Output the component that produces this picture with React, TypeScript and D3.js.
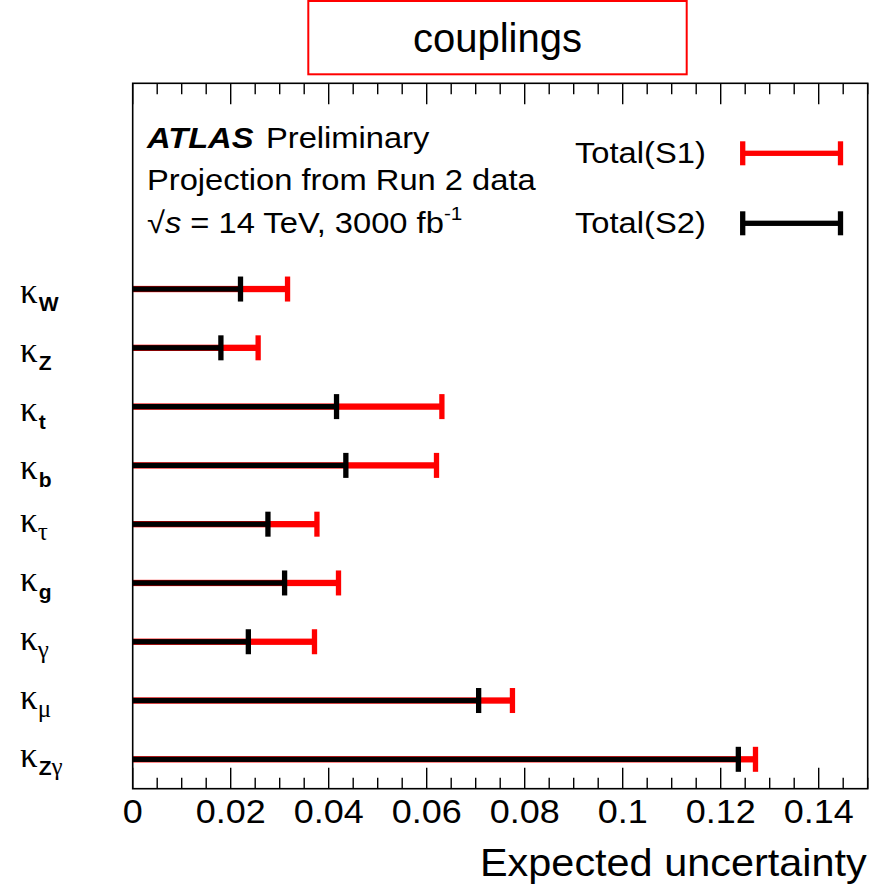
import React from "react";
import * as d3 from "d3";

// ---- data ----
const categories: string[] = ["W", "Z", "t", "b", "τ", "g", "γ", "μ", "Zγ"];
const totalS1: number[] = [0.0316, 0.0256, 0.0631, 0.062, 0.0376, 0.042, 0.0371, 0.0775, 0.1271];
const totalS2: number[] = [0.022, 0.018, 0.0416, 0.0435, 0.0276, 0.031, 0.0236, 0.0706, 0.1236];
const xTickValues: number[] = [0, 0.02, 0.04, 0.06, 0.08, 0.1, 0.12, 0.14];
const xTickLabels: string[] = ["0", "0.02", "0.04", "0.06", "0.08", "0.1", "0.12", "0.14"];
const xDomain: [number, number] = [0, 0.15];
const legendLabels: string[] = ["Total(S1)", "Total(S2)"];
const titleText = "couplings";
const xTitle = "Expected uncertainty";

// ---- layout ----
const W = 879;
const H = 885;
const F = { left: 132.7, right: 867.7, top: 83.3, bottom: 788.7 };
const SX = 1.09;
const SANS = "'Liberation Sans', Arial, Helvetica, sans-serif";
const SERIF = "'Liberation Serif', 'Times New Roman', serif";
const RED = "#ff0000";

const ST = ({ x, y, size, anchor = "start", children, weight, style, family = SANS }: any) => (
  <text
    transform={`translate(${x},${y}) scale(${SX},1)`}
    fontFamily={family}
    fontSize={size}
    textAnchor={anchor}
    fontWeight={weight}
    fontStyle={style}
    fill="#000"
  >
    {children}
  </text>
);

export default function App() {
  const x = d3.scaleLinear().domain(xDomain).range([F.left, F.right]);
  const step = (F.bottom - F.top) / 12;
  const y = d3
    .scaleBand<string>()
    .domain(categories)
    .range([F.top + 3 * step, F.bottom])
    .paddingInner(0)
    .paddingOuter(0);
  const cy = (c: string) => (y(c) as number) + y.bandwidth() / 2;

  const minor = d3.range(0, 31).map((i) => i * 0.005).filter((v, i) => i % 4 !== 0 && v <= xDomain[1] + 1e-9);

  const majorLen = 21;
  const minorLen = 11;
  const barW = 5.3;
  const capH = 25;
  const capW = 5.3;

  const isGreek = (ch: string) => /[\u0370-\u03ff]/.test(ch);

  return (
    <svg width={W} height={H} style={{ position: "absolute", left: 0, top: 0, background: "#fff" }}>
      <rect x={0} y={0} width={W} height={H} fill="#fff" />
      {/* title box */}
      <rect x={308.3} y={1} width={378.4} height={73.3} fill="#fff" stroke={RED} strokeWidth={2} />
      <text x={497.5} y={51.7} fontFamily={SANS} fontSize={40} textAnchor="middle" fill="#000">
        {titleText}
      </text>

      {/* bars: S1 (red) behind, S2 (black) in front */}
      {categories.map((c, i) => {
        const yc = cy(c);
        const xr = x(totalS1[i]);
        const xb = x(totalS2[i]);
        return (
          <g key={c}>
            <rect x={x(0)} y={yc - barW / 2 - 0.5} width={xr - x(0)} height={barW + 1} fill={RED} />
            <rect x={xr - capW / 2} y={yc - capH / 2} width={capW} height={capH} fill={RED} />
            <rect x={x(0)} y={yc - barW / 2} width={xb - x(0)} height={barW} fill="#000" />
            <rect x={xb - capW / 2} y={yc - capH / 2} width={capW} height={capH} fill="#000" />
          </g>
        );
      })}

      {/* frame */}
      <rect x={F.left} y={F.top} width={F.right - F.left} height={F.bottom - F.top} fill="none" stroke="#000" strokeWidth={1.6} />

      {/* ticks bottom & top */}
      {xTickValues.map((v) => (
        <g key={"M" + v}>
          <line x1={x(v)} x2={x(v)} y1={F.bottom} y2={F.bottom - majorLen} stroke="#000" strokeWidth={1.4} />
          <line x1={x(v)} x2={x(v)} y1={F.top} y2={F.top + majorLen} stroke="#000" strokeWidth={1.4} />
        </g>
      ))}
      {minor.map((v) => (
        <g key={"m" + v}>
          <line x1={x(v)} x2={x(v)} y1={F.bottom} y2={F.bottom - minorLen} stroke="#000" strokeWidth={1.4} />
          <line x1={x(v)} x2={x(v)} y1={F.top} y2={F.top + minorLen} stroke="#000" strokeWidth={1.4} />
        </g>
      ))}

      {/* tick labels */}
      {xTickValues.map((v, i) => (
        <ST key={"l" + v} x={x(v)} y={823.3} size={33} anchor="middle">
          {xTickLabels[i]}
        </ST>
      ))}

      {/* axis title */}
      <ST x={F.right - 1} y={876} size={38} anchor="end">
        {xTitle}
      </ST>

      {/* category labels */}
      {categories.map((c) => {
        const yc = cy(c);
        const shift = /[gγμτ]/.test(c) ? 6 : 0;
        const kb = yc + 14 - shift;
        const sb = kb + 8;
        return (
          <text key={"k" + c} x={20} y={kb} fill="#000">
            <tspan fontFamily={SERIF} fontSize={35}>κ</tspan>
            {Array.from(c).map((ch, j) =>
              isGreek(ch) ? (
                <tspan key={j} y={sb} fontFamily={SERIF} fontSize={25}>
                  {ch}
                </tspan>
              ) : (
                <tspan key={j} y={sb} dx={j === 0 ? 1 : 0} fontFamily={SANS} fontWeight="bold" fontSize={21}>
                  {ch}
                </tspan>
              )
            )}
          </text>
        );
      })}

      {/* ATLAS text */}
      <ST x={147} y={148.3} size={30} weight="bold" style="italic">
        ATLAS
      </ST>
      <ST x={266} y={148.3} size={30}>
        Preliminary
      </ST>
      <ST x={147} y={190} size={30}>
        Projection from Run 2 data
      </ST>
      <ST x={147} y={233.3} size={30}>
        <tspan>√</tspan>
        <tspan fontStyle="italic">s</tspan>
        <tspan> = 14 TeV, 3000 fb</tspan>
        <tspan fontSize={19} dy={-13}>-1</tspan>
      </ST>

      {/* legend */}
      {legendLabels.map((lab, i) => {
        const ly = 153.3 + i * 70;
        const col = i === 0 ? RED : "#000";
        const x0 = 742.7;
        const x1 = 840.5;
        return (
          <g key={lab}>
            <ST x={575} y={ly + 10} size={30}>
              {lab}
            </ST>
            <rect x={x0} y={ly - barW / 2} width={x1 - x0} height={barW} fill={col} />
            <rect x={x0 - capW / 2} y={ly - 12} width={capW} height={24} fill={col} />
            <rect x={x1 - capW / 2} y={ly - 12} width={capW} height={24} fill={col} />
          </g>
        );
      })}
    </svg>
  );
}
